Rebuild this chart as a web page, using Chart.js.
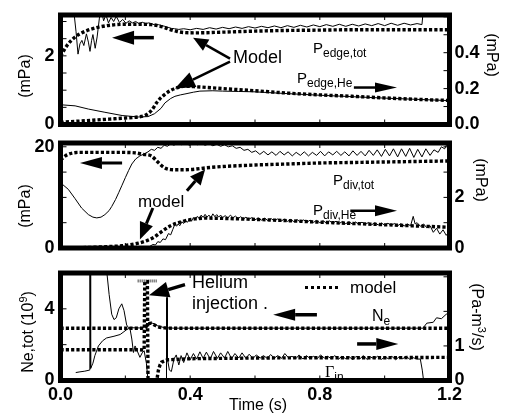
<!DOCTYPE html>
<html>
<head>
<meta charset="utf-8">
<script src="https://cdn.jsdelivr.net/npm/chart.js@4.4.1/dist/chart.umd.min.js"></script>
<style>
  body { margin: 0; background: #fff; }
  #wrap { position: relative; width: 507px; height: 414px; overflow: hidden; font-family: "Liberation Sans", Arial, sans-serif; color: #000; }
  canvas { position: absolute; left: 0; }
  .lbl { position: absolute; white-space: nowrap; line-height: 1; z-index: 2; }
  .sub { font-size: 12px; position: relative; top: 4px; }
  .rot { position: absolute; white-space: nowrap; line-height: 1; z-index: 2; font-size: 16px; transform: translate(-50%, -50%) rotate(-90deg); }
  .rotR { transform: translate(-50%, -50%) rotate(90deg); }
  .dots { position: absolute; z-index: 2; border-top: 3px dotted #000; }
</style>
</head>
<body>
<div id="wrap">
  <canvas id="c1" width="507" height="140" style="top:0px"></canvas>
  <canvas id="c2" width="507" height="135" style="top:128px"></canvas>
  <canvas id="c3" width="507" height="156" style="top:258px"></canvas>

  <!-- panel 1 text -->
  <div class="lbl" style="left:233px;top:48px;font-size:18px">Model</div>
  <div class="lbl" style="left:313px;top:40px;font-size:15px">P<span class="sub">edge,tot</span></div>
  <div class="lbl" style="left:297px;top:70px;font-size:15px">P<span class="sub">edge,He</span></div>
  <div class="rot" style="left:25px;top:76px">(mPa)</div>
  <div class="rot rotR" style="left:492px;top:55px">(mPa)</div>

  <!-- panel 2 text -->
  <div class="lbl" style="left:138px;top:193px;font-size:17px">model</div>
  <div class="lbl" style="left:333px;top:172px;font-size:15px">P<span class="sub">div,tot</span></div>
  <div class="lbl" style="left:313px;top:202px;font-size:15px">P<span class="sub">div,He</span></div>
  <div class="rot" style="left:25px;top:206px">(mPa)</div>
  <div class="rot rotR" style="left:481px;top:180px">(mPa)</div>

  <!-- panel 3 text -->
  <div class="lbl" style="left:192px;top:273px;font-size:18px">Helium</div>
  <div class="lbl" style="left:192px;top:294px;font-size:18px">injection .</div>
  <div class="dots" style="left:305px;top:286px;width:33px"></div>
  <div class="lbl" style="left:350px;top:279px;font-size:17px">model</div>
  <div class="lbl" style="left:372px;top:308px;font-size:16px">N<span class="sub">e</span></div>
  <div class="lbl" style="left:325px;top:364px;font-size:16px"><span style="font-family:'Liberation Serif',serif">&Gamma;</span><span class="sub">in</span></div>
  <div class="rot" style="left:27px;top:332px">Ne,tot (10<sup style="font-size:11px">9</sup>)</div>
  <div class="rot rotR" style="left:478px;top:317px">(Pa-m<sup style="font-size:11px">3</sup>/s)</div>

  <div class="lbl" style="left:229px;top:397px;font-size:16px">Time (s)</div>
</div>

<script>
// time axis
const timeTicks = [0, 0.4, 0.8, 1.2];
const timeMinor = [0.2, 0.4, 0.6, 0.8, 1.0];

// panel 1: edge pressures (left mPa total, right mPa helium)
const p1LeftTicks = [0, 2];
const p1LeftMinor = [0.5, 1, 1.5, 2, 2.5, 3];
const p1RightTicks = [0, 0.2, 0.4];
const p1RightMinor = [0.1, 0.2, 0.3, 0.4, 0.5, 0.6];

const edgeTotModelT = [0, 0.02, 0.045, 0.075, 0.115, 0.16, 0.2, 0.25, 0.28, 0.3, 0.32, 0.34, 0.36, 0.38, 0.42, 0.5, 0.6, 0.7, 0.8, 0.9, 1.0, 1.1, 1.2];
const edgeTotModelV = [1.99, 2.3, 2.55, 2.71, 2.83, 2.9, 2.92, 2.92, 2.91, 2.88, 2.83, 2.76, 2.71, 2.68, 2.67, 2.69, 2.72, 2.74, 2.75, 2.76, 2.76, 2.76, 2.76];

const edgeTotExpT = [0.04, 0.048, 0.054, 0.06, 0.066, 0.072, 0.08, 0.086, 0.091, 0.096, 0.1, 0.104, 0.107, 0.113, 0.12, 0.126, 0.133, 0.14, 0.148, 0.156, 0.164, 0.172, 0.182, 0.192, 0.202, 0.212, 0.222, 0.232, 0.242, 0.252, 0.262, 0.272, 0.282, 0.292, 0.302, 0.312, 0.322, 0.332, 0.342, 0.352, 0.365,
  0.38, 0.4, 0.42, 0.44, 0.46, 0.48, 0.5, 0.52, 0.54, 0.56, 0.58, 0.6, 0.62, 0.64, 0.66, 0.68, 0.7, 0.72, 0.74, 0.76, 0.78, 0.8, 0.82, 0.84, 0.86, 0.88, 0.9, 0.92, 0.94, 0.96, 0.98, 1.0, 1.02, 1.04, 1.06, 1.08, 1.1, 1.115, 1.12];
const edgeTotExpV = [3.4, 2.7, 2.05, 2.35, 2.45, 2.3, 2.64, 2.4, 2.13, 2.45, 2.62, 2.4, 2.22, 2.55, 3.1, 3.35, 3.02, 3.2, 2.96, 3.12, 3.0, 3.15, 2.97, 3.06, 2.95, 3.02, 2.96, 3.0, 2.94, 2.98, 2.94, 2.96, 2.93, 2.9, 2.91, 2.88, 2.86, 2.83, 2.8, 2.79, 2.77,
  2.79, 2.76, 2.8, 2.77, 2.82, 2.78, 2.83, 2.79, 2.84, 2.8, 2.85, 2.81, 2.86, 2.82, 2.87, 2.82, 2.88, 2.83, 2.89, 2.84, 2.9, 2.85, 2.91, 2.86, 2.92, 2.86, 2.92, 2.87, 2.93, 2.88, 2.94, 2.88, 2.95, 2.89, 2.95, 2.9, 2.94, 2.91, 3.4];

const edgeHeModelT = [0, 0.05, 0.1, 0.15, 0.2, 0.24, 0.26, 0.28, 0.3, 0.32, 0.34, 0.36, 0.38, 0.42, 0.5, 0.6, 0.7, 0.8, 0.9, 1.0, 1.1, 1.2];
const edgeHeModelV = [0.012, 0.018, 0.024, 0.03, 0.036, 0.042, 0.05, 0.077, 0.13, 0.165, 0.19, 0.205, 0.213, 0.21, 0.2, 0.188, 0.175, 0.165, 0.157, 0.148, 0.14, 0.134];

const edgeHeExpT = [0, 0.045, 0.086, 0.137, 0.19, 0.24, 0.27, 0.29, 0.31, 0.322, 0.34, 0.353, 0.37, 0.384, 0.41, 0.43, 0.47, 0.5, 0.55, 0.6, 0.7, 0.8, 0.9, 1.0, 1.1, 1.2];
const edgeHeExpV = [0.11, 0.104, 0.086, 0.068, 0.05, 0.042, 0.044, 0.06, 0.09, 0.12, 0.145, 0.157, 0.165, 0.17, 0.18, 0.186, 0.188, 0.186, 0.184, 0.182, 0.172, 0.163, 0.155, 0.147, 0.14, 0.133];

// panel 2: divertor pressures
const p2LeftTicks = [0, 20];
const p2LeftMinor = [5, 10, 15, 20];
const p2RightTicks = [0, 2];
const p2RightMinor = [1, 2, 3, 4];

const divTotModelT = [0, 0.02, 0.06, 0.12, 0.18, 0.23, 0.255, 0.28, 0.3, 0.32, 0.34, 0.36, 0.4, 0.45, 0.5, 0.6, 0.7, 0.8, 0.9, 1.0, 1.1, 1.2];
const divTotModelV = [17.4, 18.4, 18.9, 18.9, 18.9, 18.8, 18.5, 18.2, 17.0, 15.9, 15.5, 15.45, 15.5, 15.85, 16.1, 16.4, 16.6, 16.8, 16.9, 17.0, 17.1, 17.2];

const divTotExpT = [0, 0.024, 0.045, 0.065, 0.086, 0.1, 0.112, 0.125, 0.137, 0.15, 0.158, 0.17, 0.18, 0.189, 0.2, 0.21, 0.22, 0.232, 0.245, 0.258, 0.27, 0.28, 0.29, 0.3, 0.31, 0.32, 0.33, 0.34, 0.35, 0.362, 0.374, 0.386, 0.398, 0.41, 0.422, 0.434, 0.446, 0.458, 0.47, 0.482, 0.494, 0.506, 0.518, 0.53, 0.542, 0.554, 0.566, 0.578, 0.59, 0.602,
  0.615, 0.627, 0.64, 0.652, 0.665, 0.677, 0.69, 0.702, 0.715, 0.727, 0.74, 0.752, 0.765, 0.777, 0.79, 0.802, 0.815, 0.827, 0.84, 0.852, 0.865, 0.877, 0.89, 0.902, 0.915, 0.927, 0.94, 0.952, 0.965, 0.977, 0.99, 1.002, 1.015, 1.027, 1.04, 1.052, 1.065, 1.077, 1.09, 1.102, 1.115, 1.127, 1.14, 1.152, 1.165, 1.175, 1.185, 1.195, 1.2];
const divTotExpV = [12.9, 11.6, 9.75, 7.9, 6.6, 6.1, 5.95, 6.1, 6.6, 7.4, 8.2, 9.6, 11.0, 12.3, 13.9, 15.3, 16.6, 17.6, 18.2, 18.6, 19.0, 19.5, 19.3, 19.9, 19.7, 20.3, 20.1, 20.6, 20.3, 20.8, 20.4, 20.7, 20.3, 20.8, 20.4, 20.7, 20.3, 20.6, 20.2, 20.5, 20.1, 20.4, 20.0, 20.2, 19.7, 19.9, 19.3, 19.5, 18.9, 19.2,
  18.5, 19.1, 18.4, 19.0, 18.3, 19.1, 18.4, 19.0, 18.2, 18.9, 18.3, 19.0, 18.2, 18.9, 18.3, 19.1, 18.2, 19.0, 18.4, 19.1, 18.3, 19.0, 18.2, 19.2, 18.3, 19.1, 18.2, 19.3, 18.3, 19.4, 18.1, 19.5, 18.2, 19.6, 18.0, 19.6, 18.1, 19.7, 17.9, 19.5, 18.0, 19.6, 18.3, 19.4, 18.9, 20.0, 19.6, 20.9, 21.2];

const divHeModelT = [0.02, 0.08, 0.14, 0.19, 0.24, 0.27, 0.29, 0.31, 0.34, 0.374, 0.415, 0.45, 0.5, 0.6, 0.7, 0.8, 0.9, 1.0, 1.1, 1.2];
const divHeModelV = [0.0, 0.02, 0.05, 0.09, 0.19, 0.31, 0.44, 0.63, 0.88, 1.04, 1.15, 1.18, 1.17, 1.13, 1.08, 1.02, 0.97, 0.92, 0.87, 0.82];

const divHeExpT = [0.25, 0.262, 0.275, 0.285, 0.293, 0.3, 0.308, 0.316, 0.324, 0.333, 0.34, 0.346, 0.353, 0.358, 0.363, 0.368, 0.374, 0.38, 0.386, 0.392, 0.398, 0.404, 0.41, 0.416, 0.422, 0.428, 0.434, 0.44, 0.446, 0.452, 0.458, 0.464, 0.47, 0.476, 0.482, 0.488, 0.494, 0.5, 0.508, 0.516, 0.524, 0.532, 0.54, 0.548, 0.556, 0.564, 0.572, 0.58, 0.59, 0.6,
  0.61, 0.62, 0.63, 0.64, 0.65, 0.66, 0.67, 0.68, 0.69, 0.7, 0.71, 0.72, 0.73, 0.74, 0.75, 0.76, 0.77, 0.78, 0.79, 0.8, 0.81, 0.82, 0.83, 0.84, 0.85, 0.86, 0.87, 0.88, 0.89, 0.9, 0.91, 0.92, 0.93, 0.94, 0.95, 0.96, 0.97, 0.98, 0.99, 1.0, 1.01, 1.02, 1.03, 1.04, 1.05, 1.06, 1.07, 1.08, 1.088, 1.094, 1.1, 1.11, 1.12, 1.13, 1.14, 1.15, 1.16, 1.17, 1.18, 1.19, 1.2];
const divHeExpV = [0.03, 0.0, 0.06, 0.14, 0.12, 0.25, 0.22, 0.36, 0.33, 0.57, 0.52, 0.72, 0.94, 0.86, 0.95, 0.88, 1.04, 0.97, 1.08, 1.02, 1.15, 1.06, 1.2, 1.12, 1.25, 1.16, 1.3, 1.21, 1.33, 1.22, 1.3, 1.2, 1.35, 1.24, 1.32, 1.22, 1.3, 1.2, 1.28, 1.18, 1.3, 1.2, 1.26, 1.16, 1.24, 1.14, 1.22, 1.13, 1.2, 1.11,
  1.19, 1.1, 1.18, 1.08, 1.16, 1.07, 1.15, 1.06, 1.14, 1.05, 1.13, 1.04, 1.12, 1.03, 1.11, 1.02, 1.1, 1.01, 1.09, 1.0, 1.08, 0.99, 1.07, 0.98, 1.06, 0.97, 1.05, 0.96, 1.04, 0.95, 1.03, 0.94, 1.02, 0.93, 1.01, 0.92, 1.0, 0.91, 0.99, 0.9, 0.98, 0.89, 0.97, 0.88, 0.96, 0.87, 0.95, 0.88, 1.25, 0.95, 1.0, 0.86, 0.95, 0.8, 0.88, 0.62, 0.78, 0.55, 0.72, 0.5, 0.68];

// panel 3: neon content (left, 1e9) and helium puff rate (right, Pa-m3/s)
const p3LeftTicks = [0, 4];
const p3LeftMinor = [2, 4, 6];
const p3RightTicks = [0, 1];
const p3RightMinor = [1, 2, 3];

const neModelT = [0, 0.25, 0.262, 0.27, 0.28, 0.29, 0.3, 0.32, 0.35, 1.2];
const neModelV = [2.92, 2.92, 2.95, 3.15, 3.2, 3.1, 3.0, 2.94, 2.92, 2.92];

const neExpT = [0.135, 0.142, 0.15, 0.158, 0.165, 0.172, 0.18, 0.189, 0.196, 0.204, 0.21, 0.25, 0.27, 0.285, 0.3, 0.32, 0.35, 1.1, 1.118, 1.13, 1.15, 1.16, 1.175, 1.19, 1.2];
const neExpV = [7.0, 6.2, 4.8, 3.7, 3.4, 3.5, 4.0, 4.28, 3.9, 3.1, 2.95, 2.93, 3.1, 3.2, 3.05, 2.95, 2.92, 2.92, 2.92, 3.2, 3.25, 3.5, 3.45, 3.7, 3.75];

const gammaModelT = [0, 0.245, 0.258, 0.26, 0.268, 0.27, 0.297, 0.302, 0.307, 0.312, 0.33, 0.4, 0.6, 0.8, 1.0, 1.2];
const gammaModelV = [0.89, 0.89, 0.88, 2.86, 2.86, 0, 0, 0.3, 0.45, 0.53, 0.6, 0.63, 0.65, 0.66, 0.66, 0.67];

const puffCapT = [0.238, 0.297];
const puffCapV = [2.88, 2.88];

const gammaExpT = [0.047, 0.06, 0.075, 0.089, 0.0905, 0.0915, 0.093, 0.1, 0.106, 0.117, 0.13, 0.142, 0.165, 0.184, 0.204, 0.214, 0.22, 0.225, 0.23, 0.237, 0.245, 0.252, 0.258, 0.265, 0.27, 0.326, 0.327, 0.329, 0.33, 0.336, 0.342, 0.35, 0.357, 0.365, 0.372, 0.38,
  0.39, 0.4, 0.41, 0.42, 0.43, 0.44, 0.45, 0.462, 0.472, 0.484, 0.494, 0.506, 0.516, 0.528, 0.538, 0.55, 0.56, 0.572, 0.582, 0.594, 0.604, 0.616, 0.626, 0.638, 0.648, 0.66, 0.67, 0.682, 0.692, 0.704, 0.714, 0.726, 0.736, 0.748, 0.758, 0.77, 0.78, 0.792, 0.802, 0.814, 0.824, 0.836, 0.846, 0.858, 0.868, 0.88, 0.89, 0.902, 0.912, 0.924, 0.934, 0.946, 0.956, 0.968, 0.978, 0.99, 1.0, 1.012, 1.022, 1.034, 1.044, 1.056, 1.066, 1.078, 1.088, 1.1, 1.11, 1.116, 1.12, 1.2];
const gammaExpV = [0.23, 0.25, 0.27, 0.3, 3.5, 3.5, 0.35, 0.5, 0.72, 1.0, 1.15, 1.23, 1.28, 1.33, 1.47, 1.52, 1.2, 0.81, 1.0, 0.85, 0.67, 0.8, 0.86, 0.5, 0, 0, 2.4, 2.4, 0.62, 0.3, 0.26, 0.62, 0.74, 0.45, 0.72, 0.52,
  0.8, 0.6, 0.78, 0.62, 0.83, 0.64, 0.82, 0.62, 0.84, 0.64, 0.8, 0.65, 0.84, 0.63, 0.78, 0.65, 0.8, 0.64, 0.76, 0.64, 0.74, 0.65, 0.72, 0.64, 0.75, 0.65, 0.72, 0.64, 0.78, 0.65, 0.7, 0.63, 0.74, 0.62, 0.72, 0.64, 0.7, 0.63, 0.74, 0.65, 0.7, 0.63, 0.72, 0.62, 0.7, 0.63, 0.69, 0.6, 0.7, 0.63, 0.72, 0.61, 0.68, 0.63, 0.7, 0.61, 0.68, 0.63, 0.7, 0.6, 0.68, 0.63, 0.7, 0.61, 0.66, 0.62, 0.62, 0.3, 0, 0];

// arrows: [t0, v0, t1, v1, headLength, headHalfWidth, shaftWidth], v in left-axis units
const p1Arrows = [
  [0.288, 2.53, 0.159, 2.53, 22, 7, 3.5],
  [0.523, 1.92, 0.409, 2.53, 15, 6.5, 2.5],
  [0.523, 1.83, 0.353, 1.05, 20, 8, 2.5],
  [0.905, 1.077, 1.038, 1.077, 22, 5, 2.5]
];
const p2Arrows = [
  [0.19, 16.8, 0.06, 16.8, 22, 6, 3],
  [0.39, 11.3, 0.446, 15.5, 15, 7, 3],
  [0.285, 7.9, 0.245, 1.7, 17, 7, 3],
  [0.894, 7.36, 1.038, 7.36, 22, 5.5, 2.5]
];
const p3Arrows = [
  [0.384, 5.35, 0.273, 4.76, 20, 8, 3.5],
  [0.791, 3.67, 0.656, 3.67, 22, 6, 3.5],
  [0.915, 2.04, 1.042, 2.04, 22, 6, 3.5]
];

Chart.defaults.font.family = '"Liberation Sans", Arial, sans-serif';
Chart.defaults.color = '#000';

const pts = (t, v) => t.map((x, i) => ({ x, y: v[i] }));
const model = (t, v, axis, smooth = true) => ({
  data: pts(t, v), yAxisID: axis, borderColor: '#000', borderWidth: 3.4,
  borderDash: [3.2, 2.1], pointRadius: 0, fill: false,
  cubicInterpolationMode: smooth ? 'monotone' : 'default', tension: 0
});
const meas = (t, v, axis) => ({
  data: pts(t, v), yAxisID: axis, borderColor: '#000', borderWidth: 1,
  pointRadius: 0, fill: false, tension: 0
});

function drawArrow(ctx, x0, y0, x1, y1, head, half, w) {
  const a = Math.atan2(y1 - y0, x1 - x0);
  const bx = x1 - head * Math.cos(a), by = y1 - head * Math.sin(a);
  ctx.lineWidth = w;
  ctx.beginPath(); ctx.moveTo(x0, y0); ctx.lineTo(bx, by); ctx.stroke();
  ctx.beginPath();
  ctx.moveTo(x1, y1);
  ctx.lineTo(bx + half * Math.sin(a), by - half * Math.cos(a));
  ctx.lineTo(bx - half * Math.sin(a), by + half * Math.cos(a));
  ctx.closePath(); ctx.fill();
}

// thick frame, inward tick marks and annotation arrows
const frame = {
  id: 'frame',
  afterDatasetsDraw(chart, args, opts) {
    const { ctx, chartArea: a, scales } = chart;
    ctx.save();
    ctx.strokeStyle = '#000';
    ctx.fillStyle = '#000';
    ctx.lineWidth = 1;
    ctx.beginPath();
    timeMinor.forEach(t => {
      const x = scales.x.getPixelForValue(t);
      ctx.moveTo(x, a.top); ctx.lineTo(x, a.top + 5);
      ctx.moveTo(x, a.bottom); ctx.lineTo(x, a.bottom - 5);
    });
    opts.left.forEach(v => {
      const y = scales.yL.getPixelForValue(v);
      ctx.moveTo(a.left, y); ctx.lineTo(a.left + 6, y);
    });
    opts.right.forEach(v => {
      const y = scales.yR.getPixelForValue(v);
      ctx.moveTo(a.right, y); ctx.lineTo(a.right - 6, y);
    });
    ctx.stroke();
    ctx.lineWidth = 5;
    ctx.strokeRect(a.left, a.top, a.right - a.left, a.bottom - a.top);
    opts.arrows.forEach(r => {
      drawArrow(ctx, scales.x.getPixelForValue(r[0]), scales.yL.getPixelForValue(r[1]),
        scales.x.getPixelForValue(r[2]), scales.yL.getPixelForValue(r[3]), r[4], r[5], r[6]);
    });
    ctx.restore();
  }
};

function panel(id, p) {
  const fixTicks = arr => s => { s.ticks = arr.map(v => ({ value: v })); };
  const tickFont = { size: 18, weight: 'bold', lineHeight: 1 };
  return new Chart(document.getElementById(id), {
    type: 'line',
    data: { datasets: p.datasets },
    options: {
      responsive: false,
      animation: false,
      events: [],
      layout: { padding: p.padding },
      plugins: {
        legend: { display: false },
        tooltip: { enabled: false },
        frame: { left: p.leftMinor, right: p.rightMinor, arrows: p.arrows }
      },
      scales: {
        x: {
          type: 'linear', min: 0, max: 1.2, display: p.showX,
          grid: { display: false, drawTicks: false }, border: { display: false },
          afterBuildTicks: fixTicks(timeTicks),
          afterFit: s => { if (p.showX) s.height = 33.5; },
          ticks: { padding: 6, maxRotation: 0, autoSkip: false, font: tickFont, callback: v => v.toFixed(1) }
        },
        yL: {
          position: 'left', min: 0, max: p.leftMax,
          grid: { display: false, drawTicks: false }, border: { display: false },
          afterBuildTicks: fixTicks(p.leftTicks),
          afterFit: s => { s.width = 60.5; },
          ticks: { padding: 6, autoSkip: false, font: tickFont, callback: p.leftFmt }
        },
        yR: {
          position: 'right', min: 0, max: p.rightMax,
          grid: { display: false, drawTicks: false }, border: { display: false },
          afterBuildTicks: fixTicks(p.rightTicks),
          afterFit: s => { s.width = 57.5; },
          ticks: { padding: 5, autoSkip: false, font: tickFont, callback: p.rightFmt }
        }
      }
    },
    plugins: [frame]
  });
}

panel('c1', {
  padding: { top: 10.5, bottom: 15.5, left: 0, right: 0 },
  showX: false,
  leftMax: 3.19, rightMax: 0.61,
  leftTicks: p1LeftTicks, rightTicks: p1RightTicks,
  leftMinor: p1LeftMinor, rightMinor: p1RightMinor,
  leftFmt: v => String(v), rightFmt: v => v.toFixed(1),
  arrows: p1Arrows,
  datasets: [
    meas(edgeTotExpT, edgeTotExpV, 'yL'),
    meas(edgeHeExpT, edgeHeExpV, 'yR'),
    model(edgeTotModelT, edgeTotModelV, 'yL'),
    model(edgeHeModelT, edgeHeModelV, 'yR')
  ]
});

panel('c2', {
  padding: { top: 12, bottom: 13, left: 0, right: 0 },
  showX: false,
  leftMax: 20.75, rightMax: 4.15,
  leftTicks: p2LeftTicks, rightTicks: p2RightTicks,
  leftMinor: p2LeftMinor, rightMinor: p2RightMinor,
  leftFmt: v => String(v), rightFmt: v => String(v),
  arrows: p2Arrows,
  datasets: [
    meas(divTotExpT, divTotExpV, 'yL'),
    meas(divHeExpT, divHeExpV, 'yR'),
    model(divTotModelT, divTotModelV, 'yL'),
    model(divHeModelT, divHeModelV, 'yR')
  ]
});

panel('c3', {
  padding: { top: 12, bottom: 0, left: 0, right: 0 },
  showX: true,
  leftMax: 6.0, rightMax: 3.11,
  leftTicks: p3LeftTicks, rightTicks: p3RightTicks,
  leftMinor: p3LeftMinor, rightMinor: p3RightMinor,
  leftFmt: v => String(v), rightFmt: v => String(v),
  arrows: p3Arrows,
  datasets: [
    meas(neExpT, neExpV, 'yL'),
    meas(gammaExpT, gammaExpV, 'yR'),
    model(neModelT, neModelV, 'yL'),
    model(gammaModelT, gammaModelV, 'yR', false),
    { data: pts(puffCapT, puffCapV), yAxisID: 'yR', borderColor: '#444', borderWidth: 3, borderDash: [1, 1], pointRadius: 0, fill: false }
  ]
});
</script>
</body>
</html>
